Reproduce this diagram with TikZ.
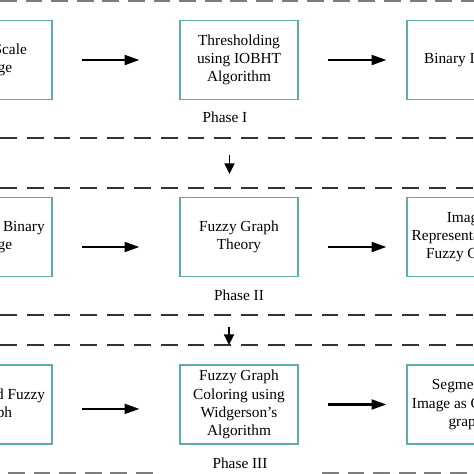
\documentclass[tikz,border=0pt]{standalone}
\usepackage{fontspec}
\setmainfont{Liberation Serif}
\usetikzlibrary{arrows.meta,positioning}
\definecolor{boxteal}{RGB}{95,172,168}
\definecolor{rulegray}{RGB}{125,125,125}

\begin{document}
\begin{tikzpicture}[x=0.025cm,y=-0.025cm,semithick,
  stage/.style={draw=boxteal,line width=0.8pt,minimum width=2.95cm,minimum height=1.975cm,align=center,inner sep=1pt,font=\fontsize{10.9}{13}\selectfont},
  phase/.style={font=\fontsize{10.9}{13}\selectfont},
  flow/.style={-{Triangle[length=10.5pt,width=7pt]},line width=1.6pt,shorten <=0.725cm},
  drop/.style={-{Triangle[length=7.5pt,width=7pt]},line width=1.4pt},
  cut/.style={black!80,line width=1pt,dash pattern=on 0.42cm off 0.25cm},
  edgecut/.style={rulegray,line width=2.4pt,dash pattern=on 0.42cm off 0.22cm}]
\useasboundingbox (0,0) rectangle (474,474);
\clip (0,0) rectangle (474,474);

% phase I
\node[stage](a1) at (-7,60) {Gray Scale\\Image};
\node[stage](a2) at (239,60) {Thresholding\\using IOBHT\\Algorithm};
\node[stage](a3) at (466,60) {Binary Image};
\node[phase](ph1) at (225,117) {Phase I};

% phase II
\node[stage](b1) at (-7,237) {Resultant Binary\\Image};
\node[stage](b2) at (239,237) {Fuzzy Graph\\Theory};
\node[stage](b3) at (466,237) {Image\\Representation as\\Fuzzy Graph};
\node[phase](ph2) at (239,295) {Phase II};

% phase III
\node[stage](c1) at (-7,404.5) {Generated Fuzzy\\Graph};
\node[stage](c2) at (239,404.5) {Fuzzy Graph\\Coloring using\\Widgerson's\\Algorithm};
\node[stage](c3) at (466,404.5) {Segmented\\Image as Colored\\graph};
\node[phase](ph3) at (240,463) {Phase III};

\draw[flow,shorten >=1cm](a1.east)--(a2.west);
\draw[flow,shorten >=0.5cm](a2.east)--(a3.west);
\draw[flow,shorten >=1cm]([yshift=-0.25cm]b1.east)--([yshift=-0.25cm]b2.west);
\draw[flow,shorten >=0.5cm]([yshift=-0.25cm]b2.east)--([yshift=-0.25cm]b3.west);
\draw[flow,shorten >=1cm]([yshift=-0.11cm]c1.east)--([yshift=-0.11cm]c2.west);
\draw[flow,shorten >=0.5cm](c2.east)--(c3.west);

% separators
\coordinate (l0) at (0,0.5);   \coordinate (r0) at (474,0.5);
\coordinate (l1) at (0,138);   \coordinate (r1) at (474,138);
\coordinate (l2) at (0,188);   \coordinate (r2) at (474,188);
\coordinate (l3) at (0,315);   \coordinate (r3) at (474,315);
\coordinate (l4) at (0,345);   \coordinate (r4) at (474,345);
\coordinate (l5) at (8,474);   \coordinate (m5) at (155,474);
\coordinate (n5) at (322,474); \coordinate (r5) at (474,474);
\draw[edgecut](l0)--(r0);
\draw[cut](l1)--(r1);
\draw[cut](l2)--(r2);
\draw[cut](l3)--(r3);
\draw[cut](l4)--(r4);
\draw[edgecut](l5)--(m5);
\draw[edgecut](n5)--(r5);

\coordinate (d1) at (229.5,155); \coordinate (e1) at (229.5,174);
\coordinate (d2) at (229,327);   \coordinate (e2) at (229,345);
\draw[drop](d1)--(e1);
\draw[drop](d2)--(e2);
\end{tikzpicture}
\end{document}
